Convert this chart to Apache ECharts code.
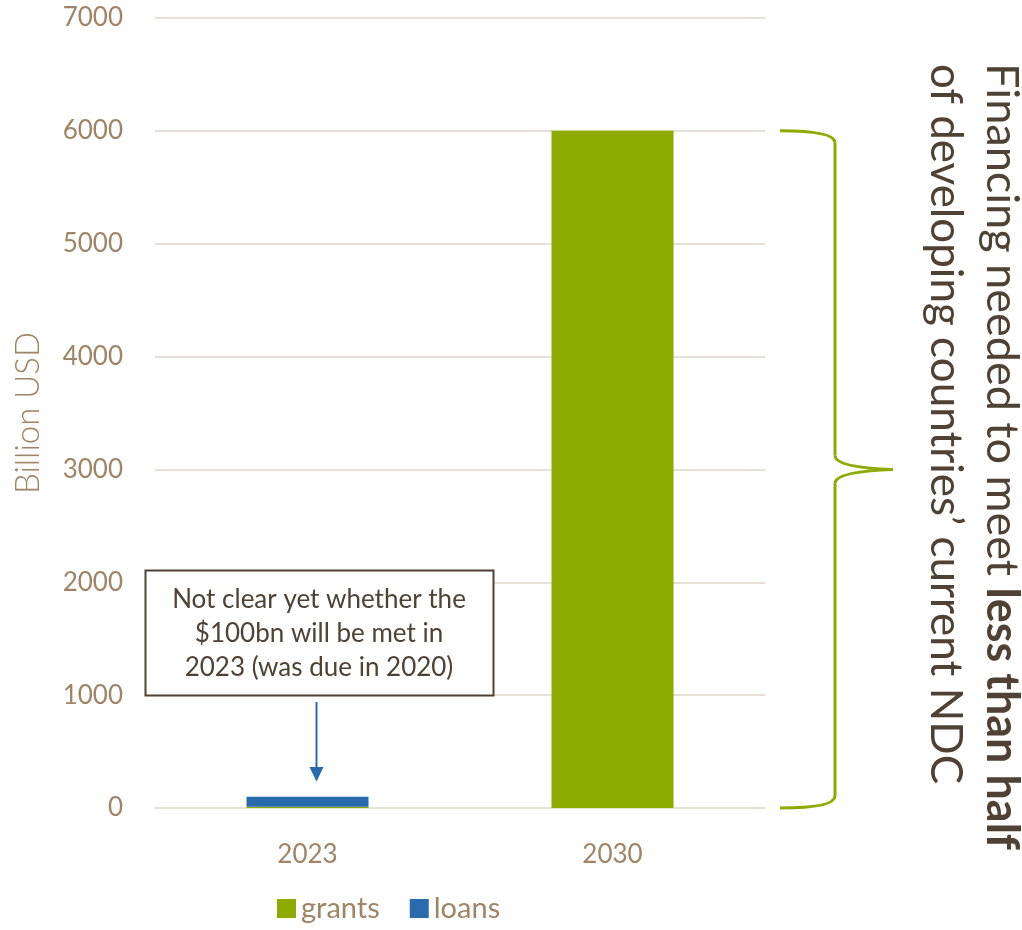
<!DOCTYPE html>
<html>
<head>
<meta charset="utf-8">
<script src="https://cdn.jsdelivr.net/npm/echarts@6/dist/echarts.min.js"></script>
<style>
  html, body { margin: 0; padding: 0; background: #fff; }
  #chart { width: 1022px; height: 930px; }
</style>
</head>
<body>
<div id="chart"></div>
<script>
// Climate finance: 2023 flows vs. 2030 needs (billion USD)
const years = ['2023', '2030'];
const grants = [12, 6000];
const loans = [88, 0];
const yTicks = [0, 1000, 2000, 3000, 4000, 5000, 6000, 7000];
const braceFrom = 0;
const braceTo = 6000;
const noteLines = ['Not clear yet whether the', '$100bn will be met in', '2023 (was due in 2020)'];

const TAN = '#9F8465';
const BROWN = '#4F4234';
const GREEN = '#8CAA00';
const BLUE = '#2A6BB0';
const FONT = 'Lato, "Open Sans", sans-serif';

const chart = echarts.init(document.getElementById('chart'));
chart.setOption({
  animation: false,
  textStyle: { fontFamily: FONT },
  grid: { left: 155, right: 257, top: 18, bottom: 122 },
  legend: {
    left: 272, bottom: 2,
    itemWidth: 19, itemHeight: 19, itemGap: 30,
    icon: 'rect',
    textStyle: { color: TAN, fontSize: 29, fontFamily: FONT },
    data: ['grants', 'loans']
  },
  xAxis: {
    type: 'category',
    data: years,
    axisLine: { show: false },
    axisTick: { show: false },
    axisLabel: { color: TAN, fontSize: 26, margin: 34, fontFamily: FONT }
  },
  yAxis: {
    type: 'value',
    min: 0, max: 7000, interval: 1000,
    name: 'Billion USD',
    nameLocation: 'middle',
    nameRotate: 90,
    nameGap: 110,
    nameTextStyle: { color: TAN, fontSize: 33, fontFamily: FONT, fontWeight: 300 },
    axisLabel: {
      color: TAN, fontSize: 26, margin: 32, fontFamily: FONT,
      formatter: v => yTicks.includes(v) ? String(v) : ''
    },
    splitLine: { lineStyle: { color: '#E6E0D6', width: 2 } }
  },
  series: [
    { name: 'grants', type: 'bar', stack: 'f', data: grants, barWidth: '40%', itemStyle: { color: GREEN } },
    { name: 'loans', type: 'bar', stack: 'f', data: loans, barWidth: '40%', itemStyle: { color: BLUE } }
  ]
});

// Annotations placed from axis coordinates
const p0 = chart.convertToPixel({ seriesIndex: 0 }, [0, braceFrom]);
const pTop = chart.convertToPixel({ seriesIndex: 0 }, [1, braceTo]);
const pLoan = chart.convertToPixel({ seriesIndex: 0 }, [0, grants[0] + loans[0]]);

const yTop = pTop[1], yBot = p0[1], yMid = (yTop + yBot) / 2;
const bx = 835, bl = 780, tip = 893;
const braceStyle = { stroke: GREEN, lineWidth: 3, fill: null };
const curve = (x1, y1, cx, cy, x2, y2) => ({
  type: 'bezierCurve',
  shape: { x1: x1, y1: y1, cpx1: cx, cpy1: cy, x2: x2, y2: y2 },
  style: braceStyle
});
const seg = (x1, y1, x2, y2) => ({ type: 'line', shape: { x1, y1, x2, y2 }, style: braceStyle });

const arrowX = pLoan[0] + 9;
chart.setOption({
  graphic: [
    curve(bl, yTop, bx, yTop, bx, yTop + 12),
    seg(bx, yTop + 12, bx, yMid - 14),
    curve(bx, yMid - 14, bx, yMid - 2, tip, yMid),
    curve(tip, yMid, bx, yMid + 2, bx, yMid + 14),
    seg(bx, yMid + 14, bx, yBot - 12),
    curve(bx, yBot - 12, bx, yBot, bl, yBot),
    {
      type: 'rect', shape: { x: 145.5, y: 570.5, width: 348, height: 125 },
      style: { fill: '#fff', stroke: BROWN, lineWidth: 2 }
    },
    {
      type: 'text', x: 319, y: 634,
      style: {
        text: noteLines.join('\n'), fill: BROWN, font: '26px ' + FONT,
        align: 'center', verticalAlign: 'middle', lineHeight: 34
      }
    },
    {
      type: 'line', shape: { x1: arrowX, y1: 702, x2: arrowX, y2: 772 },
      style: { stroke: BLUE, lineWidth: 2 }
    },
    {
      type: 'polygon',
      shape: { points: [[arrowX - 7, 767], [arrowX + 7, 767], [arrowX, pLoan[1] - 15]] },
      style: { fill: BLUE }
    },
    {
      type: 'text', x: 1002, y: 63, rotation: -Math.PI / 2,
      style: {
        text: '{n|Financing needed to meet }{b|less than half}',
        align: 'left', verticalAlign: 'middle',
        rich: {
          n: { fill: BROWN, fontSize: 45, fontFamily: FONT, fontWeight: 'normal' },
          b: { fill: BROWN, fontSize: 45, fontFamily: FONT, fontWeight: 'bold' }
        }
      }
    },
    {
      type: 'text', x: 945, y: 64, rotation: -Math.PI / 2,
      style: {
        text: 'of developing countries\u2019 current NDC',
        align: 'left', verticalAlign: 'middle',
        fill: BROWN, fontSize: 44, fontFamily: FONT, fontWeight: 'normal'
      }
    }
  ]
});
</script>
</body>
</html>
